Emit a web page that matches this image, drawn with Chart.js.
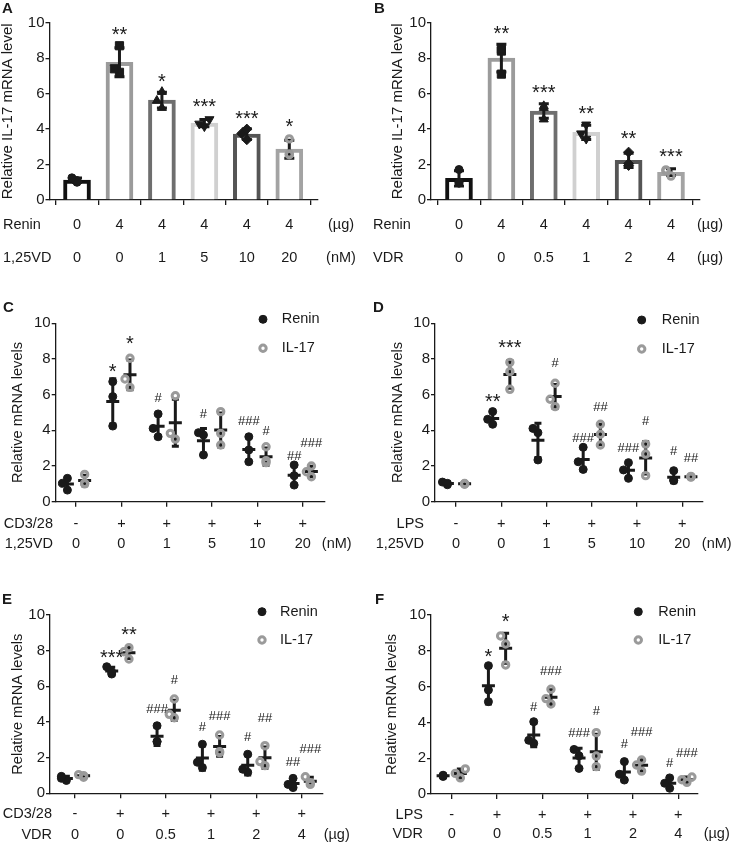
<!DOCTYPE html>
<html lang="en">
<head>
<meta charset="UTF-8">
<title>Renin / IL-17 mRNA levels</title>
<script src="https://cdn.jsdelivr.net/npm/chart.js@4"></script>
<style>
    body { margin: 0; background: #fff; }
    #fig { position: relative; width: 736px; height: 845px; overflow: hidden; background: #fff; }
    #fig canvas { position: absolute; }
</style>
</head>
<body>
<div id="fig">
    <canvas id="panelA"></canvas>
    <canvas id="panelB"></canvas>
    <canvas id="panelC"></canvas>
    <canvas id="panelD"></canvas>
    <canvas id="panelE"></canvas>
    <canvas id="panelF"></canvas>
</div>
<script>
// ---------- data ----------
const legendNames = ['Renin', 'IL-17'];

// A: Renin + 1,25VD -> IL-17 (bars)
const aRow1 = ['0', '4', '4', '4', '4', '4'];
const aRow2 = ['0', '0', '1', '5', '10', '20'];
const aRowNames = ['Renin', '1,25VD'];
const aUnits = ['(µg)', '(nM)'];
const aPoints = [[1.0, 1.1, 1.25], [7.2, 7.4, 8.7], [5.2, 5.6, 6.1], [4.15, 4.3, 4.55], [3.4, 3.75, 4.0], [2.55, 2.6, 3.45]];
const aMarks = ['', '**', '*', '***', '***', '*'];
const aMarkY = [null, 9.62, 6.95, 5.55, 4.89, 4.42];

// B: Renin + VDR -> IL-17 (bars)
const bRow1 = ['0', '4', '4', '4', '4', '4'];
const bRow2 = ['0', '0', '0.5', '1', '2', '4'];
const bRowNames = ['Renin', 'VDR'];
const bUnits = ['(µg)', '(µg)'];
const bPoints = [[0.95, 1.0, 1.72], [7.1, 8.4, 8.5], [4.55, 5.2, 5.3], [3.45, 3.75, 4.25], [1.95, 2.05, 2.7], [1.35, 1.65, 1.7]];
const bMarks = ['', '**', '***', '**', '**', '***'];
const bMarkY = [null, 9.68, 6.35, 5.17, 3.76, 2.73];

// C: CD3/28 + 1,25VD
const cRow1 = ['-', '+', '+', '+', '+', '+'];
const cRow2 = ['0', '0', '1', '5', '10', '20'];
const cRowNames = ['CD3/28', '1,25VD'];
const cUnits = [null, '(nM)'];
const cRenin = [[0.65, 1.03, 1.31], [4.24, 5.89, 6.73], [3.64, 4.11, 4.92], [2.62, 3.74, 3.87], [2.24, 2.9, 3.64], [0.93, 1.46, 2.06]];
const cIL17 = [[1.0, 1.03, 1.53], [6.41, 6.88, 8.04], [3.51, 3.83, 5.94], [3.18, 3.83, 5.05], [2.19, 2.3, 3.08], [1.4, 1.68, 2.0]];
const cReninMarks = ['', '*', '#', '#', '###', '##'];
const cReninMarkY = [null, 7.57, 5.85, 4.95, 4.58, 2.62];
const cIL17Marks = ['', '*', '', '', '#', '###'];
const cIL17MarkY = [null, 9.16, null, null, 3.98, 3.33];

// D: LPS + 1,25VD
const dRow1 = ['-', '+', '+', '+', '+', '+'];
const dRow2 = ['0', '0', '1', '5', '10', '20'];
const dRowNames = ['LPS', '1,25VD'];
const dUnits = [null, '(nM)'];
const dRenin = [[0.95, 1.03, 1.1], [4.34, 4.62, 5.05], [2.34, 3.87, 4.11], [1.81, 2.24, 3.05], [1.31, 1.78, 2.19], [1.18, 1.21, 1.74]];
const dIL17 = [[0.98, 1.0, 1.02], [6.3, 7.29, 7.81], [5.33, 5.74, 6.64], [3.18, 3.78, 4.34], [1.46, 2.67, 3.23], [1.38, 1.4, 1.42]];
const dReninMarks = ['', '**', '', '###', '###', '#'];
const dReninMarkY = [null, 5.89, null, 3.6, 3.05, 2.9];
const dIL17Marks = ['', '***', '#', '##', '#', '##'];
const dIL17MarkY = [null, 8.92, 7.81, 5.33, 4.54, 2.49];

// E: CD3/28 + VDR
const eRow1 = ['-', '+', '+', '+', '+', '+'];
const eRow2 = ['0', '0', '0.5', '1', '2', '4'];
const eRowNames = ['CD3/28', 'VDR'];
const eUnits = [null, '(µg)'];
const eRenin = [[0.72, 0.84, 0.95], [6.69, 6.8, 7.1], [2.9, 2.9, 3.79], [1.44, 1.74, 2.75], [1.18, 1.35, 2.19], [0.32, 0.5, 0.84]];
const eIL17 = [[0.9, 0.99, 1.05], [7.53, 7.94, 8.17], [4.24, 4.43, 5.29], [2.28, 2.34, 3.27], [1.55, 1.78, 2.67], [0.5, 0.6, 0.93]];
const eReninMarks = ['', '***', '###', '#', '#', '##'];
const eReninMarkY = [null, 7.9, 4.77, 3.74, 3.18, 1.78];
const eIL17Marks = ['', '**', '#', '###', '##', '###'];
const eIL17MarkY = [null, 9.2, 6.41, 4.39, 4.26, 2.52];

// F: LPS + VDR
const fRow1 = ['-', '+', '+', '+', '+', '+'];
const fRow2 = ['0', '0', '0.5', '1', '2', '4'];
const fRowNames = ['LPS', 'VDR'];
const fUnits = [null, '(µg)'];
const fRenin = [[0.98, 1.02, 1.05], [5.16, 5.81, 7.17], [2.83, 3.0, 4.04], [1.43, 2.13, 2.49], [0.78, 1.1, 1.81], [0.32, 0.6, 0.9]];
const fIL17 = [[0.9, 1.15, 1.4], [7.21, 8.38, 8.83], [5.03, 5.33, 5.85], [1.53, 2.12, 3.43], [1.28, 1.62, 1.9], [0.65, 0.8, 0.95]];
const fReninMarks = ['', '*', '#', '###', '#', '#'];
const fReninMarkY = [null, 7.95, 4.88, 3.43, 2.83, 1.77];
const fIL17Marks = ['', '*', '###', '#', '###', '###'];
const fIL17MarkY = [null, 9.93, 6.93, 4.69, 3.48, 2.31];

// ---------- styles ----------
const INK = '#1a1a1a';
const GREY = '#9a9a9a';
const FONT = '"Liberation Sans", Arial, sans-serif';

const dot = { style: 'circle', r: 4, fill: INK, stroke: INK, bw: 1 };
const ring = { style: 'circle', r: 3.2, fill: 'rgba(255,255,255,0)', stroke: GREY, bw: 3 };
const barLooks = [
    dot,
    { style: 'rect', r: 5.8, fill: INK, stroke: INK, bw: 1 },
    { style: 'triangle', r: 5.2, fill: INK, stroke: INK, bw: 1 },
    { style: 'triangle', r: 5.2, fill: INK, stroke: INK, bw: 1, rot: 180 },
    { style: 'rectRot', r: 5, fill: INK, stroke: INK, bw: 1 },
    ring
];
const barColors = ['#111111', '#9b9b9b', '#6e6e6e', '#d0d0d0', '#555555', '#a3a3a3'];

const mean = a => a.reduce((s, v) => s + v, 0) / a.length;
const sd = a => { const m = mean(a); return Math.sqrt(a.reduce((s, v) => s + (v - m) ** 2, 0) / (a.length - 1)); };

// nudge sideways points that would overlap vertically
function spread(vals, step) {
    const placed = [];
    return vals.map(v => {
        const k = [0, -1, 1, -2, 2].find(k => !placed.some(p => p.k === k && Math.abs(p.v - v) >= 0.12 && Math.abs(p.v - v) < 0.5));
        placed.push({ k, v });
        return k * step;
    });
}

function put(ctx, text, x, y, font, align, base) {
    ctx.font = font;
    ctx.fillStyle = INK;
    ctx.textAlign = align || 'center';
    ctx.textBaseline = base || 'middle';
    ctx.fillText(text, x, y);
}

function makePanel(id, cfg) {
    const [bx, by, bw, bh] = cfg.box;
    const [ax, top, right, bottom] = cfg.plot;
    const cv = document.getElementById(id);
    cv.width = bw; cv.height = bh;
    cv.style.left = bx + 'px'; cv.style.top = by + 'px';
    const X = x => x - bx, Y = y => y - by;
    const groups = cfg.rows[0].map((_, i) => i);
    const label = '14.5px ' + FONT;

    const datasets = [];
    if (cfg.bars) {
        datasets.push({
            type: 'bar', order: 2,
            data: groups.map(g => ({ x: g, y: mean(cfg.series[0].values[g]) })),
            barThickness: 27, borderWidth: 4, borderSkipped: 'start',
            borderColor: cfg.bars, backgroundColor: '#ffffff'
        });
    }
    cfg.series.forEach(s => {
        const pts = [];
        s.values.forEach((vals, g) => {
            spread(vals, cfg.step).forEach((off, j) => pts.push({ x: g + s.dx + off, y: vals[j], g }));
        });
        const look = c => (c.raw ? (s.looks[c.raw.g] || s.looks[0]) : s.looks[0]);
        datasets.push({
            type: 'scatter', order: 1, clip: false, data: pts,
            pointStyle: c => look(c).style,
            pointRadius: c => look(c).r,
            pointRotation: c => look(c).rot || 0,
            backgroundColor: c => look(c).fill,
            borderColor: c => look(c).stroke,
            borderWidth: c => look(c).bw
        });
    });

    function drawErrors(chart) {
        const { ctx, scales: { x: xs, y: ys } } = chart;
        ctx.save();
        ctx.strokeStyle = INK;
        ctx.lineWidth = 3;
        ctx.lineCap = 'butt';
        cfg.series.forEach(s => {
            s.values.forEach((vals, g) => {
                const m = mean(vals), d = sd(vals);
                const px = xs.getPixelForValue(g + s.dx);
                const y1 = ys.getPixelForValue(m + d), y2 = ys.getPixelForValue(m - d), ym = ys.getPixelForValue(m);
                const cap = cfg.bars ? 5 : 3.5;
                ctx.beginPath();
                ctx.moveTo(px, y1); ctx.lineTo(px, y2);
                ctx.moveTo(px - cap, y1); ctx.lineTo(px + cap, y1);
                ctx.moveTo(px - cap, y2); ctx.lineTo(px + cap, y2);
                if (!cfg.bars) { ctx.moveTo(px - 6.5, ym); ctx.lineTo(px + 6.5, ym); }
                ctx.stroke();
            });
        });
        ctx.restore();
    }

    const figPlugin = {
        id: 'figText' + id,
        beforeDatasetsDraw(chart) { if (!cfg.bars) drawErrors(chart); },
        afterDatasetDraw(chart, args) { if (cfg.bars && args.index === 0) drawErrors(chart); },
        afterDraw(chart) {
            const { ctx, scales: { x: xs, y: ys } } = chart;
            ctx.save();
            // panel letter
            put(ctx, cfg.letter[0], X(cfg.letter[1]), Y(cfg.letter[2]), 'bold 15px ' + FONT, 'left', 'alphabetic');
            // y title
            ctx.save();
            ctx.translate(X(cfg.yTitle[1]), Y((top + bottom) / 2));
            ctx.rotate(-Math.PI / 2);
            put(ctx, cfg.yTitle[0], 0, 0, cfg.yTitle[2] + 'px ' + FONT, 'center', 'middle');
            ctx.restore();
            // treatment rows under the axis
            cfg.rows.forEach((row, r) => {
                const ry = Y(cfg.rowY[r]);
                row.forEach((t, g) => put(ctx, t, xs.getPixelForValue(g), ry, label));
                put(ctx, cfg.rowNames[r], X(cfg.heads[r][0]), ry, label, cfg.heads[r][1]);
                if (cfg.units[r]) put(ctx, cfg.units[r], X(cfg.unitX), ry, label);
            });
            // significance marks
            cfg.series.forEach(s => {
                s.marks.forEach((t, g) => {
                    if (!t) return;
                    const star = t[0] === '*';
                    const size = star ? 20 : 13;
                    const py = ys.getPixelForValue(s.markY[g]) + size * (star ? 0.58 : 0.35);
                    put(ctx, t, xs.getPixelForValue(g + s.dx), py, size + 'px ' + FONT, 'center', 'alphabetic');
                });
            });
            // legend
            if (cfg.legend) {
                cfg.series.forEach((s, i) => {
                    const lk = s.looks[0];
                    const ly = Y(cfg.legend.y[i]);
                    ctx.beginPath();
                    ctx.arc(X(cfg.legend.x), ly, lk.r, 0, Math.PI * 2);
                    ctx.fillStyle = lk.fill; ctx.fill();
                    ctx.lineWidth = lk.bw; ctx.strokeStyle = lk.stroke; ctx.stroke();
                    put(ctx, legendNames[i], X(cfg.legend.tx), ly, label, 'left');
                });
            }
            ctx.restore();
        }
    };

    const axisLine = { display: true, color: INK, width: 1.3 };
    const ticksGrid = len => ({ display: true, drawOnChartArea: false, drawTicks: true, tickLength: len, color: INK, lineWidth: 1.3 });

    new Chart(cv, {
        type: 'scatter',
        data: { datasets },
        options: {
            responsive: false,
            animation: false,
            events: [],
            layout: { padding: { left: 0, top: Y(top), right: bw - X(right), bottom: 0 } },
            plugins: { legend: { display: false }, tooltip: { enabled: false } },
            scales: {
                x: {
                    type: 'linear', min: cfg.xRange[0], max: cfg.xRange[1], offset: false, z: 1,
                    afterBuildTicks: s => { s.ticks = groups.map(g => ({ value: g })); },
                    afterFit: s => { s.height = bh - Y(bottom); },
                    ticks: { display: false },
                    grid: ticksGrid(5),
                    border: axisLine
                },
                y: {
                    min: 0, max: 10, z: 1,
                    afterBuildTicks: s => { s.ticks = [0, 2, 4, 6, 8, 10].map(v => ({ value: v })); },
                    afterFit: s => { s.width = X(ax); },
                    ticks: { color: INK, padding: 1, font: { size: 15, family: FONT } },
                    grid: ticksGrid(4),
                    border: axisLine
                }
            }
        },
        plugins: [figPlugin]
    });
}

makePanel('panelA', {
    box: [0, 0, 368, 272], plot: [49.5, 22.7, 318, 200], xRange: [-0.648, 5.676],
    letter: ['A', 2, 12.7], yTitle: ['Relative IL-17 mRNA level', 7.8, 15],
    rows: [aRow1, aRow2], rowNames: aRowNames, units: aUnits,
    rowY: [225, 258], heads: [[3, 'left'], [3, 'left']], unitX: 341,
    bars: barColors, step: 0.12,
    series: [{ values: aPoints, dx: 0, looks: barLooks, marks: aMarks, markY: aMarkY }]
});

makePanel('panelB', {
    box: [368, 0, 368, 272], plot: [431, 22.7, 700, 200], xRange: [-0.66, 5.684],
    letter: ['B', 374, 12.7], yTitle: ['Relative IL-17 mRNA level', 398, 15],
    rows: [bRow1, bRow2], rowNames: bRowNames, units: bUnits,
    rowY: [225, 258], heads: [[373, 'left'], [373, 'left']], unitX: 710,
    bars: barColors, step: 0.12,
    series: [{ values: bPoints, dx: 0, looks: barLooks, marks: bMarks, markY: bMarkY }]
});

makePanel('panelC', {
    box: [0, 285, 368, 270], plot: [55.7, 323.3, 325, 501.7], xRange: [-0.448, 5.49],
    letter: ['C', 3, 311.7], yTitle: ['Relative mRNA levels', 18.3, 14.6],
    rows: [cRow1, cRow2], rowNames: cRowNames, units: cUnits,
    rowY: [524, 544], heads: [[53, 'right'], [53, 'right']], unitX: 336.7,
    legend: { x: 263, tx: 281.7, y: [319.3, 348.3] }, step: 0.11,
    series: [
        { values: cRenin, dx: -0.19, looks: [dot], marks: cReninMarks, markY: cReninMarkY },
        { values: cIL17, dx: 0.19, looks: [ring], marks: cIL17Marks, markY: cIL17MarkY }
    ]
});

makePanel('panelD', {
    box: [368, 285, 368, 270], plot: [435, 323.3, 703, 501.7], xRange: [-0.464, 5.457],
    letter: ['D', 373, 311.7], yTitle: ['Relative mRNA levels', 397.5, 14.6],
    rows: [dRow1, dRow2], rowNames: dRowNames, units: dUnits,
    rowY: [524, 544], heads: [[424, 'right'], [424, 'right']], unitX: 716.7,
    legend: { x: 641.7, tx: 661.7, y: [320, 349] }, step: 0.11,
    series: [
        { values: dRenin, dx: -0.19, looks: [dot], marks: dReninMarks, markY: dReninMarkY },
        { values: dIL17, dx: 0.19, looks: [ring], marks: dIL17Marks, markY: dIL17MarkY }
    ]
});

makePanel('panelE', {
    box: [0, 575, 368, 270], plot: [50, 615, 323, 793.3], xRange: [-0.551, 5.47],
    letter: ['E', 2, 603.5], yTitle: ['Relative mRNA levels', 17.5, 14.6],
    rows: [eRow1, eRow2], rowNames: eRowNames, units: eUnits,
    rowY: [814, 835], heads: [[52, 'right'], [52, 'right']], unitX: 336.7,
    legend: { x: 262, tx: 280, y: [611.7, 640] }, step: 0.11,
    series: [
        { values: eRenin, dx: -0.19, looks: [dot], marks: eReninMarks, markY: eReninMarkY },
        { values: eIL17, dx: 0.19, looks: [ring], marks: eIL17Marks, markY: eIL17MarkY }
    ]
});

makePanel('panelF', {
    box: [368, 575, 368, 270], plot: [431, 615, 698, 794], xRange: [-0.457, 5.435],
    letter: ['F', 375, 603.5], yTitle: ['Relative mRNA levels', 391.7, 14.6],
    rows: [fRow1, fRow2], rowNames: fRowNames, units: fUnits,
    rowY: [815, 834], heads: [[423, 'right'], [423, 'right']], unitX: 716.7,
    legend: { x: 638.3, tx: 658.3, y: [611.7, 640] }, step: 0.11,
    series: [
        { values: fRenin, dx: -0.19, looks: [dot], marks: fReninMarks, markY: fReninMarkY },
        { values: fIL17, dx: 0.19, looks: [ring], marks: fIL17Marks, markY: fIL17MarkY }
    ]
});
</script>
</body>
</html>
